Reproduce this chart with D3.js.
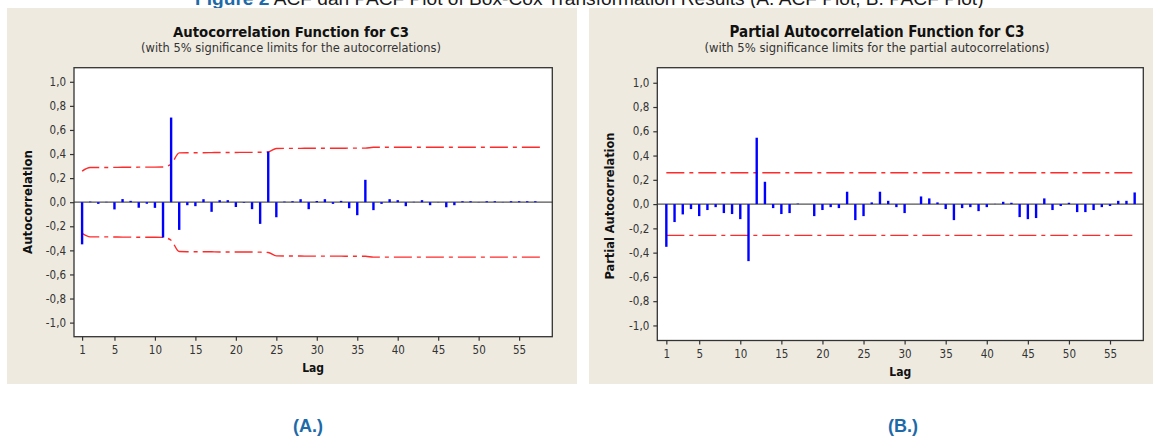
<!DOCTYPE html>
<html>
<head>
<meta charset="utf-8">
<script src="https://cdn.jsdelivr.net/npm/d3@7"></script>
<style>
  html, body { margin: 0; padding: 0; background: #ffffff; }
  svg { display: block; }
</style>
</head>
<body>
<div id="chart"></div>
<script>
// ---------------- DATA ----------------
const lags = d3.range(1, 59); // lags 1..58
const xTicks = [1, 5, 10, 15, 20, 25, 30, 35, 40, 45, 50, 55];
const yTicks = [-1.0, -0.8, -0.6, -0.4, -0.2, 0.0, 0.2, 0.4, 0.6, 0.8, 1.0];

const acfValues = [
  -0.350, 0.005, -0.014, 0.003, -0.060, 0.026, 0.011, -0.046, -0.013, -0.047,
  -0.293, 0.703, -0.230, -0.025, -0.033, 0.025, -0.080, 0.017, 0.017, -0.040,
  -0.005, -0.058, -0.180, 0.420, -0.125, 0.005, 0.008, 0.025, -0.058, 0.010,
  0.025, -0.014, 0.011, -0.050, -0.108, 0.186, -0.066, -0.014, 0.025, 0.017,
  -0.033, 0.003, 0.017, -0.025, 0.002, -0.042, -0.025, 0.008, 0.008, 0.002,
  0.008, 0.008, 0.002, 0.008, 0.008, 0.008, 0.008, 0.000
];
// upper 5% significance limit of the ACF at each lag (lower limit is its mirror)
const acfLimits = [
  0.258, 0.288, 0.288, 0.288, 0.289, 0.290, 0.290, 0.291, 0.291, 0.291,
  0.292, 0.316, 0.410, 0.411, 0.411, 0.411, 0.412, 0.413, 0.413, 0.413,
  0.414, 0.414, 0.415, 0.418, 0.446, 0.447, 0.447, 0.447, 0.448, 0.448,
  0.448, 0.448, 0.448, 0.449, 0.449, 0.449, 0.456, 0.456, 0.456, 0.456,
  0.456, 0.456, 0.456, 0.456, 0.456, 0.456, 0.456, 0.456, 0.456, 0.456,
  0.456, 0.456, 0.456, 0.456, 0.456, 0.456, 0.456, 0.456
];

const pacfValues = [
  -0.352, -0.148, -0.085, -0.041, -0.099, -0.049, -0.025, -0.074, -0.082, -0.124,
  -0.470, 0.547, 0.184, -0.033, -0.082, -0.074, 0.004, 0.000, -0.099, -0.049,
  -0.025, -0.033, 0.102, -0.132, -0.099, 0.014, 0.102, 0.027, -0.025, -0.074,
  0.000, 0.063, 0.047, 0.014, -0.041, -0.132, -0.033, -0.025, -0.058, -0.025,
  0.002, 0.019, 0.011, -0.107, -0.124, -0.115, 0.047, -0.049, -0.016, 0.011,
  -0.066, -0.066, -0.049, -0.025, -0.016, 0.027, 0.027, 0.096
];
const pacfLimit = 0.258;

const captionLead = "Figure 2";
const captionRest = " ACF dan PACF Plot of Box-Cox Transformation Results (A. ACF Plot, B. PACF Plot)";

// ---------------- LAYOUT ----------------
const W = 1163, H = 439;
const BLUE_CAPTION = "#1e6aa8";
const PANEL_BG = "#eeeae0";
const TEXT_FONT = "'DejaVu Sans Condensed', 'DejaVu Sans', sans-serif";

const svg = d3.select("#chart").append("svg")
  .attr("width", W).attr("height", H)
  .style("background", "#ffffff");

function fitText(sel, target) {
  const node = sel.node();
  const len = node.getComputedTextLength();
  const fs = parseFloat(sel.attr("font-size"));
  if (len > 0) sel.attr("font-size", (fs * target / len).toFixed(2));
}

// caption (its top is cut by the image edge, as in the source figure)
const cap = svg.append("text")
  .attr("x", 195).attr("y", 5)
  .attr("font-family", "'Liberation Sans', Arial, sans-serif")
  .attr("font-size", 18);
cap.append("tspan").text(captionLead).attr("fill", BLUE_CAPTION).attr("font-weight", "bold");
cap.append("tspan").text(captionRest).attr("fill", "#1a1a1a");
fitText(cap, 789);

function fmtTick(v) {
  return d3.format(".1f")(v).replace("−", "-").replace(".", ",");
}

function drawPanel(cfg) {
  const g = svg.append("g");
  g.append("rect")
    .attr("x", cfg.panel[0]).attr("y", cfg.panel[1])
    .attr("width", cfg.panel[2] - cfg.panel[0])
    .attr("height", cfg.panel[3] - cfg.panel[1])
    .attr("fill", PANEL_BG);

  const t = g.append("text").text(cfg.title)
    .attr("x", cfg.titleX).attr("y", 37)
    .attr("text-anchor", "middle")
    .attr("font-family", TEXT_FONT).attr("font-weight", "bold")
    .attr("font-size", 14).attr("fill", "#111");
  fitText(t, cfg.titleW);
  const st = g.append("text").text(cfg.subtitle)
    .attr("x", cfg.titleX).attr("y", 52)
    .attr("text-anchor", "middle")
    .attr("font-family", TEXT_FONT)
    .attr("font-size", 11).attr("fill", "#333");
  fitText(st, cfg.subtitleW);

  const x = d3.scaleLinear().domain(cfg.xDomain).range([cfg.frame[0], cfg.frame[2]]);
  const y = d3.scaleLinear().domain(cfg.yDomain).range([cfg.frame[3], cfg.frame[1]]);

  // plot area
  g.append("rect")
    .attr("x", cfg.frame[0]).attr("y", cfg.frame[1])
    .attr("width", cfg.frame[2] - cfg.frame[0])
    .attr("height", cfg.frame[3] - cfg.frame[1])
    .attr("fill", "#ffffff");

  // zero line
  g.append("line")
    .attr("x1", cfg.frame[0]).attr("x2", cfg.frame[2])
    .attr("y1", y(0)).attr("y2", y(0))
    .attr("stroke", "#555").attr("stroke-width", 1.3);

  // significance limits
  const lim = cfg.limits;
  const line = d3.line().x(d => x(d[0])).y(d => y(d[1])).curve(d3.curveMonotoneX);
  const up = lags.map((l, i) => [l, lim[i]]);
  const dn = lags.map((l, i) => [l, -lim[i]]);
  [up, dn].forEach(pts => {
    g.append("path").attr("d", line(pts))
      .attr("fill", "none")
      .attr("stroke", "#ff2a2a")
      .attr("stroke-width", 1.4)
      .attr("stroke-dasharray", "18,5,4,5");
  });

  // bars
  g.append("g").selectAll("line").data(lags)
    .join("line")
    .attr("x1", d => x(d)).attr("x2", d => x(d))
    .attr("y1", y(0))
    .attr("y2", (d, i) => y(cfg.values[i]))
    .attr("stroke", "#0000ff")
    .attr("stroke-width", 2.4);

  // frame
  g.append("rect")
    .attr("x", cfg.frame[0]).attr("y", cfg.frame[1])
    .attr("width", cfg.frame[2] - cfg.frame[0])
    .attr("height", cfg.frame[3] - cfg.frame[1])
    .attr("fill", "none").attr("stroke", "#333").attr("stroke-width", 1.3);

  // axes
  const ya = g.append("g").attr("transform", `translate(${cfg.frame[0]},0)`)
    .call(d3.axisLeft(y).tickValues(yTicks).tickFormat(fmtTick).tickSize(4).tickPadding(4));
  const xa = g.append("g").attr("transform", `translate(0,${cfg.frame[3]})`)
    .call(d3.axisBottom(x).tickValues(xTicks).tickFormat(d3.format("d")).tickSize(4).tickPadding(5));
  [ya, xa].forEach(a => {
    a.select(".domain").remove();
    a.selectAll(".tick line").attr("stroke", "#333").attr("stroke-width", 1.2);
    a.selectAll(".tick text")
      .attr("font-family", TEXT_FONT).attr("font-size", 11.5).attr("fill", "#333");
  });

  // axis titles
  g.append("text").text("Lag")
    .attr("x", (cfg.frame[0] + cfg.frame[2]) / 2).attr("y", cfg.lagY)
    .attr("text-anchor", "middle")
    .attr("font-family", TEXT_FONT).attr("font-weight", "bold")
    .attr("font-size", 12).attr("fill", "#111");
  const yl = g.append("text").text(cfg.yLabel)
    .attr("transform", `translate(${cfg.yLabelX},${cfg.yLabelY}) rotate(-90)`)
    .attr("text-anchor", "middle")
    .attr("font-family", TEXT_FONT).attr("font-weight", "bold")
    .attr("font-size", 11).attr("fill", "#111");
  fitText(yl, cfg.yLabelW);
}

drawPanel({
  panel: [7, 8, 577, 384],
  frame: [74, 67.7, 552.3, 336.7],
  xDomain: [0, 59.1],
  yDomain: [-1.117, 1.117],
  title: "Autocorrelation Function for C3",
  subtitle: "(with 5% significance limits for the autocorrelations)",
  titleX: 291, titleW: 236, subtitleW: 300,
  values: acfValues,
  limits: acfLimits,
  yLabel: "Autocorrelation",
  yLabelX: 32, yLabelY: 202, yLabelW: 104,
  lagY: 372
});

drawPanel({
  panel: [589, 8, 1153, 384],
  frame: [657.3, 67.7, 1143.3, 340.5],
  xDomain: [-0.1, 59.05],
  yDomain: [-1.124, 1.124],
  title: "Partial Autocorrelation Function for C3",
  subtitle: "(with 5% significance limits for the partial autocorrelations)",
  titleX: 877, titleW: 295, subtitleW: 345,
  values: pacfValues,
  limits: lags.map(() => pacfLimit),
  yLabel: "Partial Autocorrelation",
  yLabelX: 614, yLabelY: 206, yLabelW: 147,
  lagY: 376
});

// panel captions
[["(A.)", 308], ["(B.)", 903]].forEach(([txt, cx]) => {
  svg.append("text").text(txt)
    .attr("x", cx).attr("y", 432)
    .attr("text-anchor", "middle")
    .attr("font-family", "'Liberation Sans', Arial, sans-serif")
    .attr("font-weight", "bold").attr("font-size", 18)
    .attr("fill", BLUE_CAPTION);
});
</script>
</body>
</html>
